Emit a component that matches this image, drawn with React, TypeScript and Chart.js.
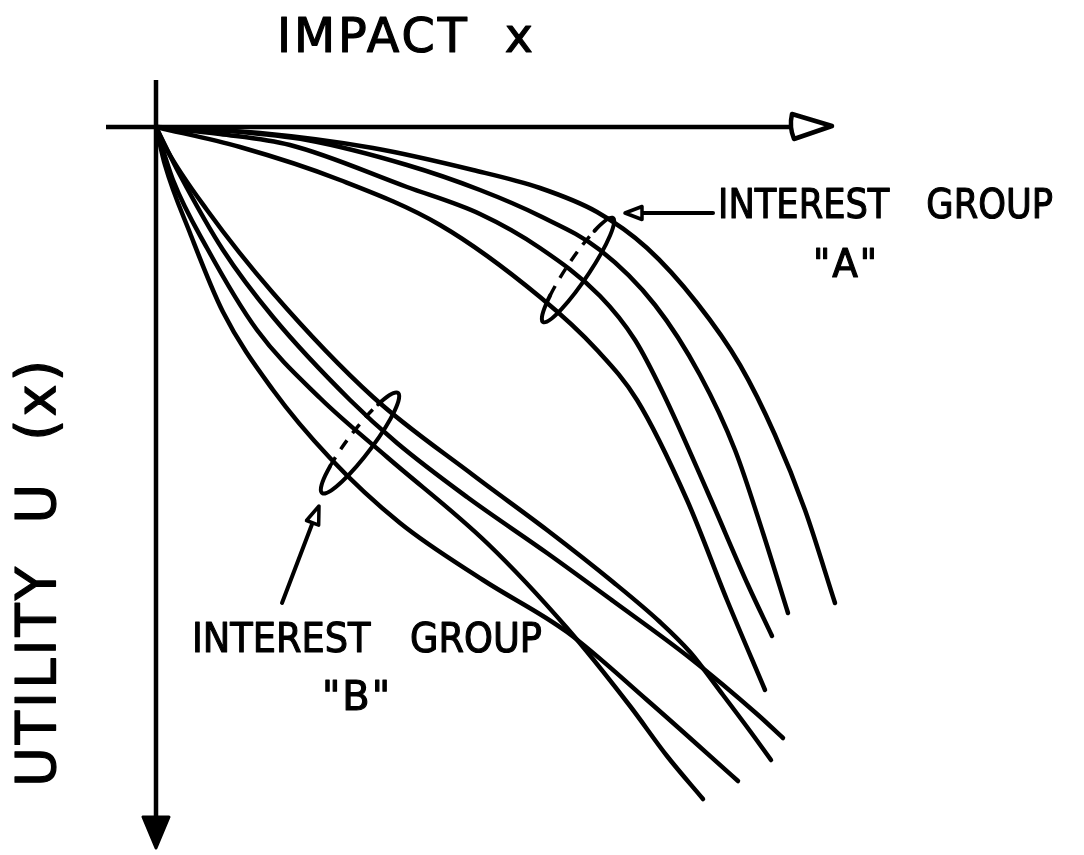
import React, { useEffect, useRef } from "react";
import { Chart, registerables } from "chart.js";

Chart.register(...registerables);

// ---- Data: impact x (right) vs. utility U(x) (downward = lower utility) ----
type Pt = [number, number];

// Interest group "A" – four utility curves
const groupA1: Pt[] = [
  [0, 0], [10.4, -0.6], [21.7, -2.1], [31.7, -4.3], [38.4, -6.1], [44.1, -8.5],
  [49.1, -12.1], [54.1, -17.6], [58.4, -23.8], [61.9, -30.8], [64.9, -38.3], [67.9, -47.6],
];
const groupA2: Pt[] = [
  [0, 0], [7.4, -0.4], [15.1, -1.3], [25.1, -3.8], [32.4, -6.3], [38.4, -8.9],
  [44.4, -12.3], [49.9, -17.8], [54.4, -24.8], [57.9, -32.3], [60.7, -40.6], [63.2, -48.6],
];
const groupA3: Pt[] = [
  [0, 0], [6.4, -0.7], [13.4, -1.8], [25.1, -6.0], [32.4, -8.7], [38.4, -12.1],
  [44.4, -16.9], [47.9, -21.3], [50.7, -26.6], [55.2, -36.6], [59.2, -45.8], [61.6, -50.9],
];
const groupA4: Pt[] = [
  [0, 0], [8.4, -2.0], [18.4, -5.3], [28.4, -9.8], [38.4, -17.0], [44.1, -22.3],
  [48.1, -27.3], [53.1, -37.3], [57.1, -47.3], [60.9, -56.3],
];

// Interest group "B" – four utility curves
const groupB1: Pt[] = [
  [0, 0], [0.9, -3.8], [3.4, -10.6], [6.7, -18.5], [11.7, -26.3], [17.4, -33.1],
  [24.4, -39.6], [32.7, -45.3], [41.1, -50.5], [49.1, -57.3], [58.2, -65.4],
];
const groupB2: Pt[] = [
  [0, 0], [1.7, -5.3], [5.1, -12.1], [10.1, -20.3], [16.4, -27.1], [23.1, -33.0],
  [33.1, -41.6], [41.1, -50.1], [47.4, -57.9], [51.1, -62.9], [54.7, -67.2],
];
const groupB3: Pt[] = [
  [0, 0], [2.4, -4.8], [6.7, -12.3], [11.7, -19.0], [19.4, -27.3], [24.1, -31.6],
  [31.1, -37.0], [39.1, -42.6], [45.7, -47.4], [53.4, -53.1], [60.1, -58.7], [62.7, -61.1],
];
const groupB4: Pt[] = [
  [0, 0], [1.1, -2.3], [5.1, -8.3], [11.7, -16.6], [21.7, -27.0], [31.7, -34.8],
  [39.1, -40.3], [45.7, -45.5], [50.4, -49.5], [53.4, -52.5], [56.7, -56.8],
  [59.4, -60.4], [61.5, -63.3],
];

const curvesA = [groupA1, groupA2, groupA3, groupA4];
const curvesB = [groupB1, groupB2, groupB3, groupB4];

// Axes (drawn as lines through the scales)
const impactAxis: Pt[] = [[-5, 0], [63.6, 0]];
const utilityAxis: Pt[] = [[0, 4.7], [0, -69.0]];
const impactArrowTip = 67.6;
const utilityArrowTip = -72.1;

// Texts
const titleText = "IMPACT x";
const yLabelText = "UTILITY U (x)";
const groupLabel = "INTEREST GROUP";
const groupALetter = '"A"';
const groupBLetter = '"B"';

// Ring & pointer annotations (in data units)
const ringA = { p0: [38.7, -19.5], p1: [45.7, -9.1] };
const ringB = { p0: [16.6, -36.6], p1: [24.2, -26.6] };
const pointerA = { from: [55.7, -8.6], to: [46.9, -8.6] };
const pointerB = { from: [12.6, -47.6], to: [16.3, -37.9] };

function drawFitText(
  ctx: CanvasRenderingContext2D,
  text: string,
  x: number,
  y: number,
  cap: number,
  width: number,
  ls: number,
  ws: number,
  rotate = false
) {
  const size = cap / 0.729;
  ctx.save();
  ctx.font = `${size}px "DejaVu Sans", sans-serif`;
  (ctx as any).letterSpacing = "0px";
  (ctx as any).wordSpacing = "0px";
  const natural = ctx.measureText(text).width;
  const spaces = (text.match(/ /g) || []).length;
  const full = natural + ls * (text.length - 1) + ws * spaces;
  const sx = width / full;
  (ctx as any).letterSpacing = `${ls}px`;
  (ctx as any).wordSpacing = `${ws}px`;
  ctx.translate(x, y);
  if (rotate) ctx.rotate(-Math.PI / 2);
  ctx.scale(sx, 1);
  ctx.textAlign = "left";
  ctx.textBaseline = "alphabetic";
  ctx.fillStyle = "#000";
  ctx.strokeStyle = "#000";
  ctx.lineWidth = 1.2;
  ctx.lineJoin = "round";
  ctx.fillText(text, 0, 0);
  ctx.strokeText(text, 0, 0);
  ctx.restore();
}

const diagramPlugin = {
  id: "diagram",
  afterDatasetsDraw(chart: any) {
    const { ctx } = chart;
    const xs = chart.scales.x;
    const ys = chart.scales.y;
    const P = (p: number[]) => ({ x: xs.getPixelForValue(p[0]), y: ys.getPixelForValue(p[1]) });
    ctx.save();
    ctx.strokeStyle = "#000";
    ctx.lineCap = "round";
    ctx.lineJoin = "round";

    // impact axis arrowhead (open)
    const o = P([0, 0]);
    const xb = xs.getPixelForValue(impactAxis[1][0]);
    const xt = xs.getPixelForValue(impactArrowTip);
    ctx.beginPath();
    ctx.moveTo(xb, o.y - 13);
    ctx.lineTo(xt, o.y - 1);
    ctx.lineTo(xb + 2, o.y + 12);
    ctx.quadraticCurveTo(xb - 3, o.y, xb, o.y - 13);
    ctx.closePath();
    ctx.fillStyle = "#fff";
    ctx.fill();
    ctx.lineWidth = 4.5;
    ctx.stroke();

    // utility axis arrowhead (filled)
    const yb = ys.getPixelForValue(utilityAxis[1][1]);
    const yt = ys.getPixelForValue(utilityArrowTip);
    ctx.beginPath();
    ctx.moveTo(o.x - 13, yb);
    ctx.lineTo(o.x + 13, yb);
    ctx.lineTo(o.x, yt);
    ctx.closePath();
    ctx.fillStyle = "#000";
    ctx.fill();
    ctx.lineWidth = 3;
    ctx.stroke();

    // rings around each group of curves
    const ring = (r: { p0: number[]; p1: number[] }, b: number) => {
      const a0 = P(r.p0);
      const a1 = P(r.p1);
      const cx = (a0.x + a1.x) / 2;
      const cy = (a0.y + a1.y) / 2;
      const a = Math.hypot(a0.x - cx, a0.y - cy);
      const rot = Math.atan2(a0.y - cy, a0.x - cx);
      ctx.lineWidth = 4;
      ctx.setLineDash([]);
      ctx.beginPath();
      ctx.ellipse(cx, cy, a, b, rot, 2.3, Math.PI * 2 + 0.95);
      ctx.stroke();
      ctx.setLineDash([11, 9]);
      ctx.lineWidth = 3.5;
      ctx.lineCap = "butt";
      ctx.beginPath();
      ctx.ellipse(cx, cy, a, b, rot, 0.95, 2.3);
      ctx.stroke();
      ctx.lineCap = "round";
      ctx.setLineDash([]);
    };
    ring(ringA, 11);
    ring(ringB, 12);

    // pointer arrows with open heads
    const pointer = (pp: { from: number[]; to: number[] }, len: number, half: number) => {
      const f = P(pp.from);
      const t = P(pp.to);
      const ang = Math.atan2(t.y - f.y, t.x - f.x);
      const bx = t.x - Math.cos(ang) * len;
      const by = t.y - Math.sin(ang) * len;
      ctx.lineWidth = 4;
      ctx.beginPath();
      ctx.moveTo(f.x, f.y);
      ctx.lineTo(bx, by);
      ctx.stroke();
      ctx.beginPath();
      ctx.moveTo(t.x, t.y);
      ctx.lineTo(bx - Math.sin(ang) * half, by + Math.cos(ang) * half);
      ctx.lineTo(bx + Math.sin(ang) * half, by - Math.cos(ang) * half);
      ctx.closePath();
      ctx.fillStyle = "#fff";
      ctx.fill();
      ctx.lineWidth = 3.5;
      ctx.stroke();
    };
    pointer(pointerA, 17, 6.5);
    pointer(pointerB, 18, 6.5);

    // texts
    drawFitText(ctx, titleText, 277, 52, 35, 256, 3, 17);
    drawFitText(ctx, yLabelText, 55, 787, 40, 427, 3, 20, true);
    drawFitText(ctx, groupLabel, 718, 218, 30, 335, 0, 30);
    drawFitText(ctx, groupALetter, 813, 277, 29, 64, 2, 0);
    drawFitText(ctx, groupLabel, 192, 652, 30, 350, 0, 31);
    drawFitText(ctx, groupBLetter, 322, 710, 30, 68, 2, 0);

    ctx.restore();
  },
};

export default function App() {
  const ref = useRef<HTMLCanvasElement | null>(null);

  useEffect(() => {
    document.body.style.margin = "0";
    const canvas = ref.current;
    if (!canvas) return;

    const curveSet = (arr: Pt[], label: string) => ({
      label,
      data: arr.map(([x, u]) => ({ x, y: u })),
      borderColor: "#000",
      borderWidth: 4.5,
      borderCapStyle: "round" as const,
      borderJoinStyle: "round" as const,
      pointRadius: 0,
      fill: false,
      cubicInterpolationMode: "monotone" as const,
    });
    const axisSet = (arr: Pt[], label: string) => ({
      label,
      data: arr.map(([x, u]) => ({ x, y: u })),
      borderColor: "#000",
      borderWidth: 4.5,
      pointRadius: 0,
      fill: false,
      tension: 0,
    });

    const chart = new Chart(canvas, {
      type: "line",
      data: {
        datasets: [
          axisSet(impactAxis, "impact axis"),
          axisSet(utilityAxis, "utility axis"),
          ...curvesA.map((c, i) => curveSet(c, `A${i + 1}`)),
          ...curvesB.map((c, i) => curveSet(c, `B${i + 1}`)),
        ],
      },
      options: {
        animation: false,
        responsive: false,
        devicePixelRatio: 1,
        layout: { padding: 0 },
        scales: {
          x: { type: "linear", min: -15.6, max: 92.8, display: false },
          y: { type: "linear", min: -72.8, max: 12.7, display: false },
        },
        plugins: {
          legend: { display: false },
          tooltip: { enabled: false },
          title: { display: false },
        },
        events: [],
      },
      plugins: [diagramPlugin],
    });
    return () => chart.destroy();
  }, []);

  return (
    <div style={{ width: 1084, height: 855, background: "#fff" }}>
      <canvas ref={ref} width={1084} height={855} style={{ display: "block" }} />
    </div>
  );
}
